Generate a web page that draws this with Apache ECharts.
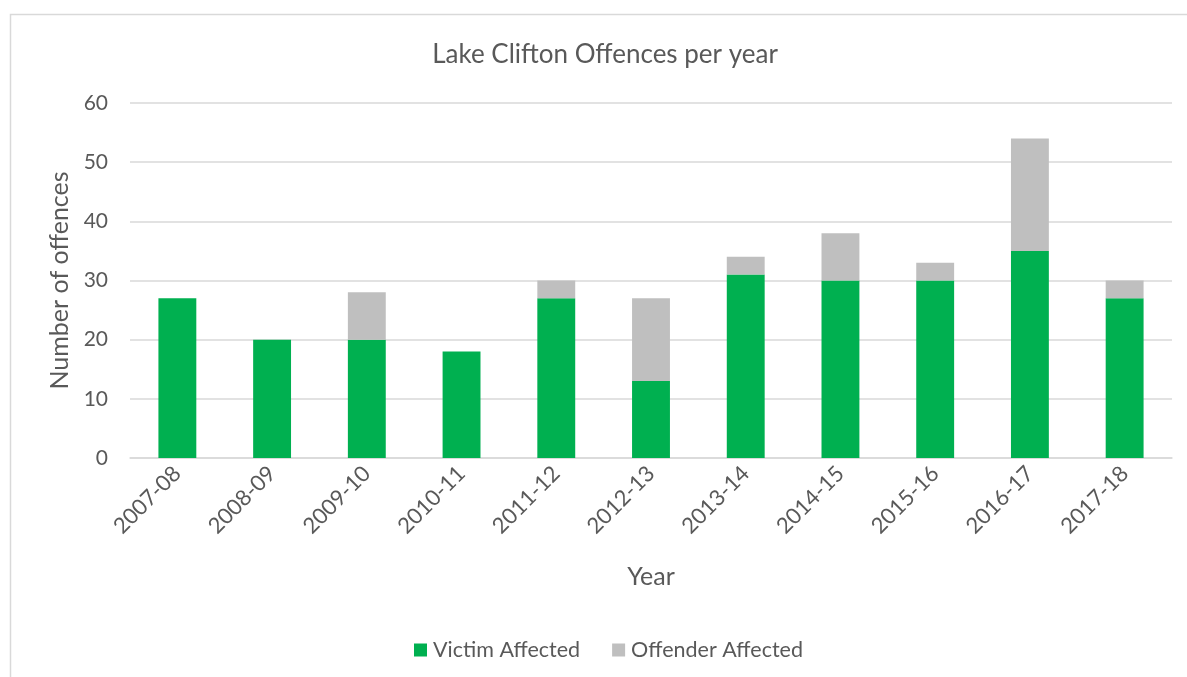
<!DOCTYPE html>
<html>
<head>
<meta charset="utf-8">
<script src="https://cdn.jsdelivr.net/npm/echarts@6/dist/echarts.min.js"></script>
<style>
  html, body { margin: 0; padding: 0; background: #fff; }
  #chart { width: 1187px; height: 677px; }
</style>
</head>
<body>
<div id="chart"></div>
<script>
// Offences recorded at Lake Clifton, by financial year
const years = ['2007-08', '2008-09', '2009-10', '2010-11', '2011-12', '2012-13',
               '2013-14', '2014-15', '2015-16', '2016-17', '2017-18'];
const victimAffected   = [27, 20, 20, 18, 27, 13, 31, 30, 30, 35, 27];
const offenderAffected = [0, 0, 8, 0, 3, 14, 3, 8, 3, 19, 3];
const yTicks = { min: 0, max: 60, interval: 10 };

const FONT = 'Lato, "Open Sans", sans-serif';
const TEXT = '#595959';

const chart = echarts.init(document.getElementById('chart'), null, { renderer: 'canvas' });
chart.setOption({
  backgroundColor: '#ffffff',
  animation: false,
  graphic: [{
    type: 'rect',
    shape: { x: 10.5, y: 14.5, width: 1200, height: 700 },
    style: { fill: 'none', stroke: '#d9d9d9', lineWidth: 1.5 },
    silent: true
  }],
  title: {
    text: 'Lake Clifton Offences per year',
    left: 600, top: 37, textAlign: 'center',
    textStyle: { fontFamily: FONT, fontSize: 26, fontWeight: 'normal', color: TEXT }
  },
  legend: {
    left: 409, top: 634,
    itemWidth: 13, itemHeight: 13, itemGap: 32,
    icon: 'rect',
    textStyle: { fontFamily: FONT, fontSize: 21.5, color: TEXT, padding: [0, 0, 0, 1] },
    data: ['Victim Affected', 'Offender Affected']
  },
  grid: { left: 130, right: 15, top: 103, bottom: 219, containLabel: false },
  xAxis: {
    type: 'category',
    data: years,
    name: 'Year',
    nameLocation: 'middle',
    nameGap: 106,
    nameTextStyle: { fontFamily: FONT, fontSize: 25, color: TEXT },
    axisLine: { show: true, lineStyle: { color: '#d9d9d9', width: 1.5 } },
    axisTick: { show: false },
    axisLabel: {
      rotate: 45, interval: 0, margin: 12,
      fontFamily: FONT, fontSize: 22, color: TEXT
    }
  },
  yAxis: {
    type: 'value',
    min: yTicks.min, max: yTicks.max, interval: yTicks.interval,
    name: 'Number of offences',
    nameLocation: 'middle',
    nameGap: 54,
    nameTextStyle: { fontFamily: FONT, fontSize: 25, color: TEXT },
    axisLine: { show: false },
    axisTick: { show: false },
    axisLabel: { margin: 22, fontFamily: FONT, fontSize: 21, color: TEXT },
    splitLine: { lineStyle: { color: '#d9d9d9', width: 1.5 } }
  },
  series: [
    {
      name: 'Victim Affected', type: 'bar', stack: 'total',
      data: victimAffected, barWidth: '40%',
      itemStyle: { color: '#00B050' }
    },
    {
      name: 'Offender Affected', type: 'bar', stack: 'total',
      data: offenderAffected, barWidth: '40%',
      itemStyle: { color: '#BFBFBF' }
    }
  ]
});
</script>
</body>
</html>
